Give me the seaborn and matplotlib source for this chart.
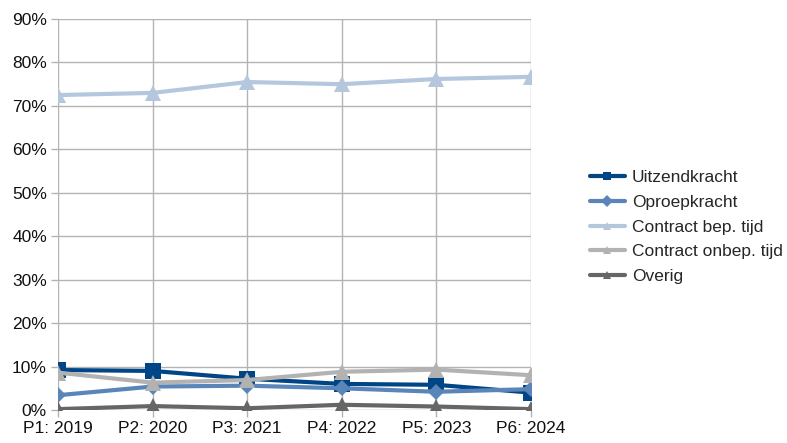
import matplotlib
matplotlib.use("Agg")
import matplotlib.pyplot as plt
import seaborn as sns
import pandas as pd

periods = ["P1: 2019", "P2: 2020", "P3: 2021", "P4: 2022", "P5: 2023", "P6: 2024"]
uitzendkracht = [9.2, 9.0, 7.2, 6.0, 5.8, 4.0]
oproepkracht = [3.4, 5.4, 5.6, 5.0, 4.2, 4.8]
contract_bep = [72.5, 73.0, 75.5, 75.0, 76.2, 76.7]
contract_onbep = [8.6, 6.3, 6.9, 8.8, 9.3, 8.0]
overig = [0.2, 0.9, 0.4, 1.2, 0.8, 0.2]

series_names = ["Uitzendkracht", "Oproepkracht", "Contract bep. tijd",
                "Contract onbep. tijd", "Overig"]
series_values = [uitzendkracht, oproepkracht, contract_bep, contract_onbep, overig]
colors = ["#004586", "#5a85b8", "#b4c7dc", "#b2b2b2", "#666666"]
markers = ["s", "D", "^", "^", "^"]
marker_sizes = [11, 8, 12, 12, 12]

rows = []
for name, vals in zip(series_names, series_values):
    for i, v in enumerate(vals):
        rows.append({"pos": i, "value": v, "series": name})
df = pd.DataFrame(rows)

sns.set_theme(style="white")
plt.rcParams["font.family"] = ["Liberation Sans", "DejaVu Sans"]

fig = plt.figure(figsize=(7.87, 4.43), dpi=100)
ax = fig.add_axes([0.0737, 0.0745, 0.6010, 0.8825])

for name, color, mk, ms in zip(series_names, colors, markers, marker_sizes):
    sub = df[df["series"] == name]
    sns.lineplot(data=sub, x="pos", y="value", ax=ax, color=color, linewidth=3.0,
                 marker=mk, markersize=ms, markeredgewidth=0, label=name)

ax.set_xlim(0, len(periods) - 1)
ax.set_ylim(0, 90)
ax.set_xticks(range(len(periods)))
ax.set_xticklabels(periods)
ax.set_yticks(range(0, 91, 10))
ax.set_yticklabels([f"{t}%" for t in range(0, 91, 10)])
ax.set_xlabel("")
ax.set_ylabel("")
ax.grid(True, color="#b3b3b3", linewidth=1)
ax.set_axisbelow(True)
for s in ax.spines.values():
    s.set_visible(False)
ax.tick_params(axis="both", length=5, color="#b3b3b3", labelsize=12.5,
               labelcolor="#111111", pad=3, width=1)
ax.tick_params(axis="both", which="both", left=True, bottom=True)

leg = ax.legend(loc="center left", bbox_to_anchor=(1.11, 0.468), frameon=False,
                fontsize=12.5, handlelength=2.0, labelspacing=0.56,
                handletextpad=0.4, borderaxespad=0)
for line in leg.get_lines():
    line.set_linewidth(3.0)
    line.set_markersize(6)

fig.savefig("out.png", dpi=100)
